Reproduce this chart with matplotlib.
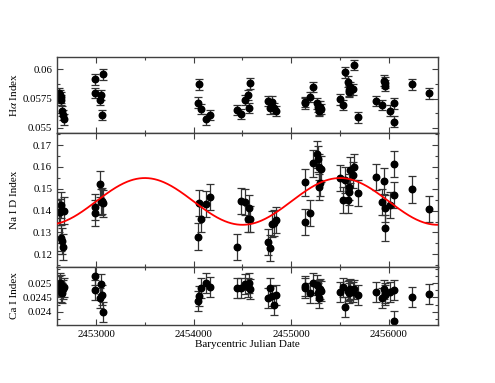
import numpy as np
import matplotlib
matplotlib.use('Agg')
import matplotlib.pyplot as plt
from matplotlib.ticker import MultipleLocator

plt.rcParams['font.family'] = ['Liberation Serif', 'DejaVu Serif']
plt.rcParams['mathtext.fontset'] = 'stix'

# observation dates (BJD)
bjd = [2452625, 2452630, 2452640, 2452645, 2452655, 2452665, 2452675,
       2452985, 2452992, 2453038, 2453054, 2453062, 2453072,
       2454044, 2454051, 2454079, 2454130, 2454165,
       2454440, 2454490, 2454521, 2454560, 2454568, 2454574,
       2454765, 2454786, 2454806, 2454827, 2454841,
       2455136, 2455143, 2455195, 2455222, 2455263, 2455270, 2455280, 2455287, 2455298, 2455308,
       2455496, 2455527, 2455547, 2455578, 2455588, 2455595, 2455605, 2455633, 2455639, 2455684,
       2455863, 2455932, 2455948, 2455956, 2455961, 2456007, 2456051, 2456053,
       2456234, 2456406]

halpha = [0.0580, 0.0578, 0.0576, 0.05738, 0.05644, 0.0561, 0.05573,
          0.05915, 0.0580, 0.0574, 0.0578, 0.0561, 0.05957,
          0.05715, 0.05872, 0.0566, 0.05573, 0.0561,
          0.05653, 0.0562, 0.05738, 0.05781, 0.05672, 0.0588,
          0.0573, 0.05667, 0.05724, 0.05672, 0.05644,
          0.0571, 0.0572, 0.05766, 0.05851, 0.0571, 0.05681, 0.05647, 0.05653, 0.05681, 0.0566,
          0.05744, 0.05695, 0.05974, 0.05894, 0.05809, 0.0582, 0.05851, 0.0583, 0.06037, 0.0559,
          0.0573, 0.05695, 0.05903, 0.0586, 0.05886, 0.05647, 0.0571, 0.05553,
          0.05872, 0.05795]

nad = [0.1395, 0.1395, 0.1426, 0.1273, 0.1260, 0.1232, 0.1400,
       0.1418, 0.1388, 0.1522, 0.1441, 0.1445, 0.1433,
       0.1281, 0.1436, 0.1362, 0.1430, 0.1461,
       0.1235, 0.1445, 0.1441, 0.1360, 0.1410, 0.1362,
       0.1255, 0.1228, 0.1337, 0.1342, 0.1357,
       0.1529, 0.1349, 0.1390, 0.1616, 0.1657, 0.1636, 0.1601, 0.1509, 0.1525, 0.1589,
       0.1548, 0.1449, 0.1540, 0.1449, 0.1509, 0.1486, 0.1586, 0.1563, 0.1598, 0.1479,
       0.1552, 0.1441, 0.1537, 0.1410, 0.1319, 0.1426, 0.1612, 0.1471,
       0.1497, 0.1407]

cai = [0.0249, 0.0250, 0.02494, 0.02470, 0.02465, 0.02478, 0.02485,
       0.02527, 0.02476, 0.02449, 0.02498, 0.02460, 0.02398,
       0.02438, 0.02456, 0.02482, 0.0250, 0.02486,
       0.02482, 0.02482, 0.02498, 0.02485, 0.0250, 0.0248,
       0.02447, 0.02482, 0.02456, 0.02424, 0.02459,
       0.0249, 0.02482, 0.02467, 0.0250, 0.02494, 0.02465, 0.02447, 0.02476, 0.0248, 0.02473,
       0.02468, 0.02485, 0.02416, 0.02474, 0.02465, 0.02476, 0.0248, 0.0247, 0.02478, 0.02459,
       0.0247, 0.02447, 0.02478, 0.02459, 0.02465, 0.0247, 0.02476, 0.02368,
       0.02453, 0.02462]

ha_err, nad_err, cai_err = 0.00045, 0.006, 0.00035

# sinusoidal fit to Na I D
fit_period = 2000.0
fit_mean = 0.1442
fit_amp = 0.0107
fit_peak = 2455500.0

fig = plt.figure(figsize=(4.95, 3.83), dpi=100)
left, width = 0.1152, 0.769
ax1 = fig.add_axes([left, 0.6527, width, 0.1984])
ax2 = fig.add_axes([left, 0.3029, width, 0.3498])
ax3 = fig.add_axes([left, 0.1514, width, 0.1515])

ebkw = dict(fmt='o', color='black', ms=4.7, ecolor='0.2', elinewidth=0.9,
            capsize=3, capthick=0.9)
ax1.errorbar(bjd, halpha, yerr=ha_err, **ebkw)
ax2.errorbar(bjd, nad, yerr=nad_err, **ebkw)
ax3.errorbar(bjd, cai, yerr=cai_err, **ebkw)

xx = np.linspace(2452600, 2456500, 500)
ax2.plot(xx, fit_mean + fit_amp * np.cos(2 * np.pi * (xx - fit_peak) / fit_period),
         color='red', lw=1.3, zorder=5)

ax1.set_ylim(0.05457, 0.06105)
ax1.yaxis.set_minor_locator(MultipleLocator(0.00125))
ax1.set_yticks([0.055, 0.0575, 0.06])
ax1.set_yticklabels(['0.055', '0.0575', '0.06'])

ax2.set_ylim(0.1142, 0.1755)
ax2.yaxis.set_minor_locator(MultipleLocator(0.005))
ax2.set_yticks([0.12, 0.13, 0.14, 0.15, 0.16, 0.17])
ax2.set_yticklabels(['0.12', '0.13', '0.14', '0.15', '0.16', '0.17'])

ax3.set_ylim(0.02353, 0.02557)
ax3.yaxis.set_minor_locator(MultipleLocator(0.00025))
ax3.set_yticks([0.024, 0.0245, 0.025])
ax3.set_yticklabels(['0.024', '0.0245', '0.025'])

for ax in (ax1, ax2, ax3):
    ax.set_xlim(2452600, 2456500)
    ax.xaxis.set_major_locator(MultipleLocator(1000))
    ax.xaxis.set_minor_locator(MultipleLocator(500))
    ax.tick_params(which='both', direction='in', top=True, right=True,
                   labelsize=7.8, width=0.8, color='0.25')
    ax.tick_params(which='major', length=4)
    ax.tick_params(which='minor', length=2.5)
    for s in ax.spines.values():
        s.set_linewidth(1.0)
        s.set_color('0.25')
    ax.yaxis.set_label_coords(-0.1, 0.5)

ax1.tick_params(labelbottom=False)
ax2.tick_params(labelbottom=False)
ax3.set_xticks([2453000, 2454000, 2455000, 2456000])
ax3.set_xticklabels(['2453000', '2454000', '2455000', '2456000'])

ax1.set_ylabel(r'H$\alpha$ Index', fontsize=8)
ax2.set_ylabel('Na I D Index', fontsize=8)
ax3.set_ylabel('Ca I Index', fontsize=8)
ax3.set_xlabel('Barycentric Julian Date', fontsize=8, labelpad=1)

fig.savefig('out.png', dpi=100)
